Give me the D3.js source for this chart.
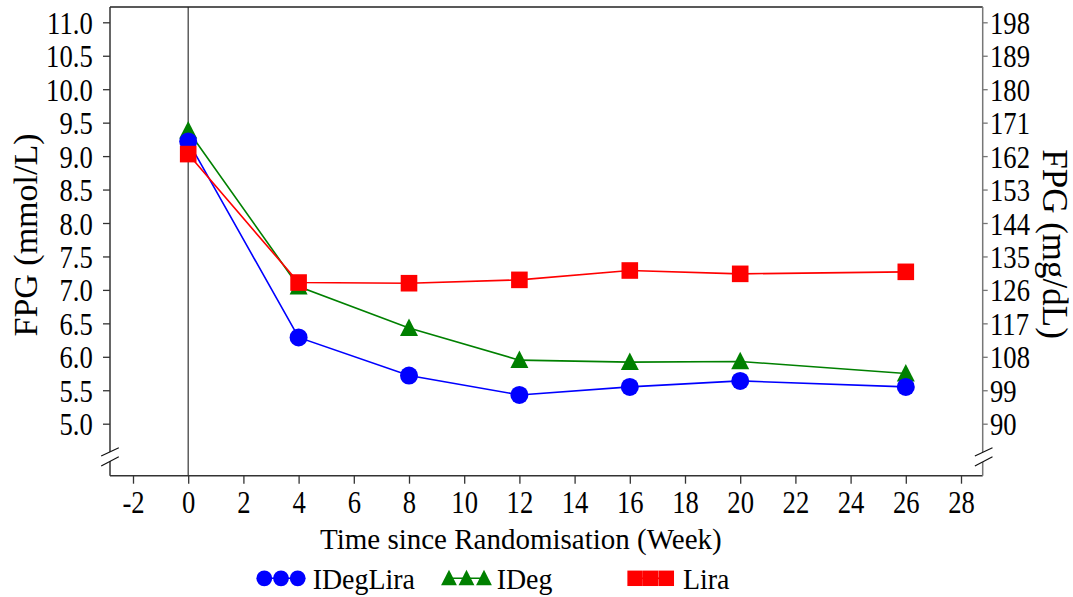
<!DOCTYPE html>
<html><head><meta charset="utf-8">
<script src="https://cdn.jsdelivr.net/npm/d3@7"></script>
<style>
html,body{margin:0;padding:0;background:#fff;}
</style></head>
<body><svg id="c" width="1073" height="597"></svg>
<script>
// ---- data ----
const weeks = [0, 4, 8, 12, 16, 20, 26];
const idegLira = [9.22, 6.29, 5.72, 5.43, 5.55, 5.64, 5.55];
const ideg = [9.38, 7.05, 6.43, 5.95, 5.92, 5.93, 5.75];
const lira = [9.03, 7.11, 7.10, 7.15, 7.29, 7.24, 7.27];
const seriesNames = ["IDegLira", "IDeg", "Lira"];
const xTicks = [-2, 0, 2, 4, 6, 8, 10, 12, 14, 16, 18, 20, 22, 24, 26, 28];
const yTicksLeft = [5.0, 5.5, 6.0, 6.5, 7.0, 7.5, 8.0, 8.5, 9.0, 9.5, 10.0, 10.5, 11.0];
const yTicksRight = [90, 99, 108, 117, 126, 135, 144, 153, 162, 171, 180, 189, 198];
const xTitle = "Time since Randomisation (Week)";
const yTitleLeft = "FPG (mmol/L)";
const yTitleRight = "FPG (mg/dL)";

// ---- layout ----
const FONT = "'Liberation Serif', 'Times New Roman', Times, 'DejaVu Serif', serif";
const svg = d3.select("#c").attr("font-family", FONT);
const L = 110, R = 982.7, T = 7, B = 475.7;
const x = d3.scaleLinear().domain([-2, 28]).range([133, 961]);
const y = d3.scaleLinear().domain([5, 11]).range([423.7, 22.3]);
const yR = d3.scaleLinear().domain([90, 198]).range([423.7, 22.3]);
const SX = 0.86;

const series = [
  {name: seriesNames[1], vals: ideg, color: "#008000", shape: "tri"},
  {name: seriesNames[0], vals: idegLira, color: "#0000ff", shape: "circ"},
  {name: seriesNames[2], vals: lira, color: "#ff0000", shape: "sq"}
];

// zero line
svg.append("line").attr("x1", x(0)).attr("x2", x(0)).attr("y1", T).attr("y2", B)
  .attr("stroke", "#444").attr("stroke-width", 1.3);

// frame lines
svg.append("line").attr("x1", L).attr("x2", R).attr("y1", T).attr("y2", T).attr("stroke", "#222").attr("stroke-width", 1.5);
svg.append("line").attr("x1", L).attr("x2", R).attr("y1", B).attr("y2", B).attr("stroke", "#333").attr("stroke-width", 1.5);
svg.append("line").attr("x1", L).attr("x2", L).attr("y1", T).attr("y2", B).attr("stroke", "#333").attr("stroke-width", 1.5);
svg.append("line").attr("x1", R).attr("x2", R).attr("y1", T).attr("y2", B).attr("stroke", "#777").attr("stroke-width", 1.5);

function styleAxis(g) {
  g.attr("font-family", FONT).attr("font-size", 31);
  g.select(".domain").remove();
}

// x axis
const gx = svg.append("g").attr("transform", `translate(0,${B})`)
  .call(d3.axisBottom(x).tickValues(xTicks).tickFormat(d => String(d)).tickSize(8).tickSizeOuter(0));
styleAxis(gx);
gx.selectAll(".tick line").attr("stroke", "#333").attr("stroke-width", 1.3);
gx.selectAll(".tick text").attr("y", 37.6).attr("dy", 0)
  .attr("font-family", FONT).attr("font-size", 31).attr("transform", `scale(${SX},1)`);

// left axis
const gl = svg.append("g").attr("transform", `translate(${L},0)`)
  .call(d3.axisLeft(y).tickValues(yTicksLeft).tickFormat(d3.format(".1f")).tickSize(7).tickSizeOuter(0));
styleAxis(gl);
gl.selectAll(".tick line").attr("stroke", "#333").attr("stroke-width", 1.3);
gl.selectAll(".tick text").attr("x", -17.3 / SX).attr("dy", 11)
  .attr("font-family", FONT).attr("font-size", 31).attr("transform", `scale(${SX},1)`);

// right axis
const gr = svg.append("g").attr("transform", `translate(${R},0)`)
  .call(d3.axisRight(yR).tickValues(yTicksRight).tickFormat(d => String(d)).tickSize(5).tickSizeOuter(0));
styleAxis(gr);
gr.selectAll(".tick line").attr("stroke", "#777").attr("stroke-width", 1.3);
gr.selectAll(".tick text").attr("x", 7.3 / SX).attr("dy", 11)
  .attr("font-family", FONT).attr("font-size", 31).attr("transform", `scale(${SX},1)`);

// axis breaks
function brk(cx) {
  const g = svg.append("g");
  g.append("polygon")
    .attr("points", `${cx-8.5},456 ${cx+8.5},447.7 ${cx+8.5},456.7 ${cx-8.5},466`)
    .attr("fill", "#fff");
  g.append("line").attr("x1", cx-8.8).attr("y1", 456).attr("x2", cx+8.8).attr("y2", 447.7).attr("stroke", "#111").attr("stroke-width", 1.2);
  g.append("line").attr("x1", cx-8.8).attr("y1", 466).attr("x2", cx+8.8).attr("y2", 456.7).attr("stroke", "#111").attr("stroke-width", 1.2);
}
brk(L); brk(R + 1);

// series
const line = d3.line().x((d, i) => x(weeks[i])).y(d => y(d));
function marker(g, shape, cx, cy, color, s) {
  if (shape === "circ") {
    g.append("circle").attr("cx", cx).attr("cy", cy).attr("r", 9 * s).attr("fill", color);
  } else if (shape === "sq") {
    const h = 8.3 * s;
    g.append("rect").attr("x", cx - h).attr("y", cy - h).attr("width", 2 * h).attr("height", 2 * h).attr("fill", color);
  } else {
    const w = 9 * s, ht = 17.5 * s;
    g.append("polygon").attr("points", `${cx},${cy - ht * 0.55} ${cx + w},${cy + ht * 0.45} ${cx - w},${cy + ht * 0.45}`).attr("fill", color);
  }
}
series.forEach(s => {
  const g = svg.append("g");
  g.append("path").attr("d", line(s.vals)).attr("fill", "none").attr("stroke", s.color).attr("stroke-width", 1.6);
  s.vals.forEach((v, i) => marker(g, s.shape, x(weeks[i]), y(v), s.color, 1));
});

// titles
svg.append("text").attr("x", (321.7 + 720) / 2).attr("y", 548.5).attr("text-anchor", "middle")
  .attr("font-size", 29).text(xTitle);
svg.append("text").attr("transform", "translate(36.7,235) rotate(-90)").attr("text-anchor", "middle")
  .attr("font-size", 34).text(yTitleLeft);
svg.append("text").attr("transform", "translate(1043,244) rotate(90)").attr("text-anchor", "middle")
  .attr("font-size", 35).text(yTitleRight);

// legend
const legendOrder = [
  {name: seriesNames[0], color: "#0000ff", shape: "circ", xs: [264.3, 281, 297.7], tx: 312.7},
  {name: seriesNames[1], color: "#008000", shape: "tri", xs: [449, 466.5, 484], tx: 496.7},
  {name: seriesNames[2], color: "#ff0000", shape: "sq", xs: [635.1, 650.7, 666.3], tx: 683}
];
const ly = 578.3;
const LSX = 0.93;
legendOrder.forEach(it => {
  const g = svg.append("g");
  g.append("line").attr("x1", it.xs[0]).attr("x2", it.xs[2]).attr("y1", ly).attr("y2", ly)
    .attr("stroke", it.color).attr("stroke-width", 1.6);
  it.xs.forEach(cx => marker(g, it.shape, cx, ly, it.color, it.shape === "sq" ? 0.93 : 0.88));
  g.append("text").attr("transform", `translate(${it.tx},589.3) scale(${LSX},1)`)
    .attr("font-size", 30).text(it.name);
});
</script></body></html>
